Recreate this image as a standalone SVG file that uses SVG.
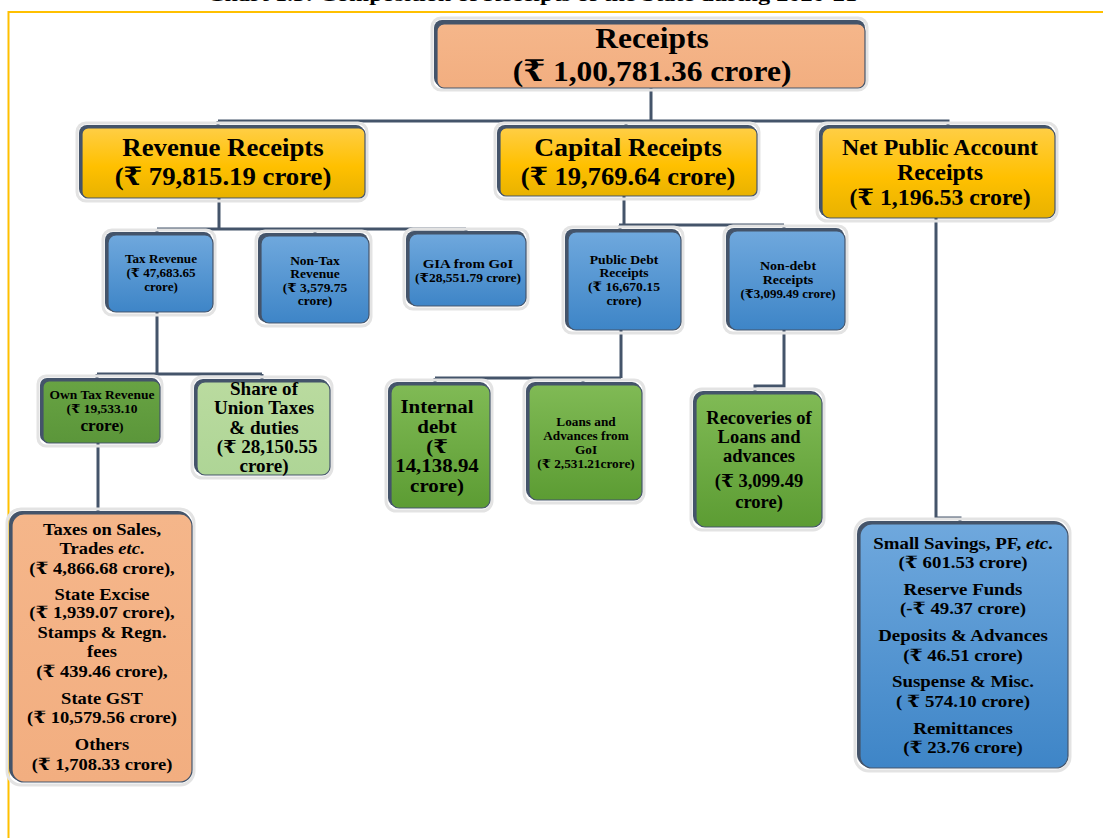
<svg xmlns="http://www.w3.org/2000/svg" width="1103" height="838" viewBox="0 0 1103 838">
<defs>
<linearGradient id="gPeach" x1="0" y1="0" x2="0" y2="1"><stop offset="0" stop-color="#F5B68A"/><stop offset="1" stop-color="#F2AE80"/></linearGradient>
<linearGradient id="gYellow" x1="0" y1="0" x2="0" y2="1"><stop offset="0" stop-color="#FFCE45"/><stop offset="0.55" stop-color="#FFC000"/><stop offset="1" stop-color="#E8B200"/></linearGradient>
<linearGradient id="gBlue" x1="0" y1="0" x2="0" y2="1"><stop offset="0" stop-color="#6FA8DD"/><stop offset="1" stop-color="#3E85C7"/></linearGradient>
<linearGradient id="gGreen" x1="0" y1="0" x2="0" y2="1"><stop offset="0" stop-color="#80BA55"/><stop offset="1" stop-color="#5C9C33"/></linearGradient>
<linearGradient id="gDGreen" x1="0" y1="0" x2="0" y2="1"><stop offset="0" stop-color="#68A343"/><stop offset="1" stop-color="#5B963A"/></linearGradient>
<linearGradient id="gLGreen" x1="0" y1="0" x2="0" y2="1"><stop offset="0" stop-color="#BADB9F"/><stop offset="1" stop-color="#AED596"/></linearGradient>
</defs>
<style>
.glow{fill:none;stroke:#E3E3E3;stroke-width:3}
.sh{fill:#44546A}
.box{stroke:#44546A;stroke-width:1.2}
.peach{fill:url(#gPeach)}
.yellow{fill:url(#gYellow)}
.blue{fill:url(#gBlue)}
.green{fill:url(#gGreen)}
.dgreen{fill:url(#gDGreen)}
.lgreen{fill:url(#gLGreen)}
text{font-family:"Liberation Serif","DejaVu Serif",serif;font-weight:bold;fill:#000;text-anchor:middle}
.conn{fill:none;stroke:#44546A;stroke-width:3}
.frame{fill:none;stroke:#FFC000;stroke-width:2}
</style>
<rect width="1103" height="838" fill="#FFFFFF"/>
<text x="532" y="1" font-size="18" textLength="650" lengthAdjust="spacingAndGlyphs">Chart 1.5: Composition of Receipts of the State during 2020-21</text>
<path class="frame" d="M1103 12 H8.5 V838"/>

<g id="connectors">
<path class="conn" d="M651 88 V121 M218 121 H948 V128 M218 121 V128 M626 121 V128"/>
<path class="conn" d="M219 198 V229 M157 229 H466 M157 229 V235 M315 229 V236 M466 229 V234"/>
<path class="conn" d="M624 196 V225 M619 225 H784 M620 225 V232 M784 225 V231"/>
<path class="conn" d="M157 312 V374 M97 374 H262 M97 374 V381 M262 374 V382"/>
<path class="conn" d="M98 443 V514"/>
<path class="conn" d="M621 330 V378 M435 378 H621 M435 378 V385 M583 378 V385"/>
<path class="conn" d="M784 330 V386 H755 V394"/>
<path class="conn" d="M936 218 V518 H960 V524"/>
</g>

<g id="receipts">
<rect class="glow" x="432" y="18" width="435" height="72" rx="9"/>
<rect class="sh" x="434" y="20" width="431" height="66" rx="8"/>
<rect class="box peach" x="437" y="24" width="428" height="64" rx="7"/>
<g transform="translate(652 0) scale(1.05 1)">
<text x="0" y="48" font-size="30">Receipts</text>
<text x="0" y="81" font-size="30">(₹ 1,00,781.36 crore)</text>
</g>
</g>

<g id="revenue-receipts">
<rect class="glow" x="77" y="123" width="290" height="78" rx="9"/>
<rect class="sh" x="79" y="125" width="285" height="72" rx="8"/>
<rect class="box yellow" x="82" y="128" width="283" height="70" rx="6"/>
<g transform="translate(223 0) scale(1.05 1)">
<text x="0" y="156" font-size="25.5">Revenue Receipts</text>
<text x="0" y="185" font-size="25.5">(₹ 79,815.19 crore)</text>
</g>
</g>

<g id="capital-receipts">
<rect class="glow" x="495" y="123" width="264" height="76" rx="9"/>
<rect class="sh" x="497" y="125" width="259" height="70" rx="8"/>
<rect class="box yellow" x="500" y="128" width="257" height="68" rx="6"/>
<g transform="translate(628 0) scale(1.06 1)">
<text x="0" y="156" font-size="24.5"><tspan font-size="26">Capital</tspan> Receipts</text>
<text x="0" y="185" font-size="25">(₹ 19,769.64 crore)</text>
</g>
</g>

<g id="net-public-account">
<rect class="glow" x="817" y="123" width="240" height="98" rx="10"/>
<rect class="sh" x="819" y="125" width="235" height="92" rx="9"/>
<rect class="box yellow" x="822" y="128" width="233" height="90" rx="8"/>
<g transform="translate(940 0) scale(1.06 1)">
<text x="0" y="155" font-size="22.5">Net Public Account</text>
<text x="0" y="180" font-size="22.5">Receipts</text>
<text x="0" y="205" font-size="22.5">(₹ 1,196.53  crore)</text>
</g>
</g>

<g id="tax-revenue">
<rect class="glow" x="103" y="230" width="112" height="85" rx="9"/>
<rect class="sh" x="105" y="232" width="107" height="79" rx="8"/>
<rect class="box blue" x="108" y="235" width="105" height="77" rx="8"/>
<g transform="translate(161 0) scale(1.05 1)">
<text x="0" y="263" font-size="12.5">Tax Revenue</text>
<text x="0" y="277" font-size="12.5">(₹ 47,683.65</text>
<text x="0" y="291" font-size="12.5">crore)</text>
</g>
</g>

<g id="non-tax-revenue">
<rect class="glow" x="256" y="231" width="115" height="95" rx="9"/>
<rect class="sh" x="258" y="233" width="110" height="89" rx="8"/>
<rect class="box blue" x="261" y="236" width="108" height="87" rx="8"/>
<g transform="translate(315 0) scale(1.08 1)">
<text x="0" y="265" font-size="12.5">Non-Tax</text>
<text x="0" y="278" font-size="12.5">Revenue</text>
<text x="0" y="292" font-size="12.5">(₹ 3,579.75</text>
<text x="0" y="305" font-size="12.5">crore)</text>
</g>
</g>

<g id="gia-from-goi">
<rect class="glow" x="404" y="229" width="124" height="80" rx="9"/>
<rect class="sh" x="406" y="231" width="119" height="74" rx="8"/>
<rect class="box blue" x="409" y="234" width="117" height="72" rx="8"/>
<g transform="translate(468 0) scale(1.1 1)">
<text x="0" y="268" font-size="13.5">GIA from GoI</text>
<text x="0" y="282" font-size="12.3">(₹28,551.79 crore)</text>
</g>
</g>

<g id="public-debt-receipts">
<rect class="glow" x="563" y="227" width="120" height="106" rx="9"/>
<rect class="sh" x="565" y="229" width="115" height="100" rx="8"/>
<rect class="box blue" x="568" y="232" width="113" height="98" rx="8"/>
<g transform="translate(624 0) scale(1.05 1)">
<text x="0" y="264" font-size="13">Public Debt</text>
<text x="0" y="277" font-size="13">Receipts</text>
<text x="0" y="291" font-size="13">(₹ 16,670.15</text>
<text x="0" y="305" font-size="13">crore)</text>
</g>
</g>

<g id="non-debt-receipts">
<rect class="glow" x="724" y="226" width="123" height="107" rx="9"/>
<rect class="sh" x="726" y="228" width="118" height="101" rx="8"/>
<rect class="box blue" x="729" y="231" width="116" height="99" rx="8"/>
<g transform="translate(788 0) scale(1.08 1)">
<text x="0" y="270" font-size="13">Non-debt</text>
<text x="0" y="284" font-size="13">Receipts</text>
<text x="0" y="298" font-size="12">(₹3,099.49 crore)</text>
</g>
</g>

<g id="own-tax-revenue">
<rect class="glow" x="38" y="376" width="124" height="70" rx="8"/>
<rect class="sh" x="40" y="378" width="119" height="64" rx="7"/>
<rect class="box dgreen" x="43" y="381" width="117" height="62" rx="6"/>
<g transform="translate(102 0) scale(1.08 1)">
<text x="0" y="399" font-size="12.5">Own Tax Revenue</text>
<text x="0" y="413" font-size="12.5">(₹ 19,533.10</text>
<text x="0" y="431" font-size="16">crore<tspan font-size="12.5">)</tspan></text>
</g>
</g>

<g id="share-of-union-taxes">
<rect class="glow" x="192" y="377" width="140" height="101" rx="10"/>
<rect class="sh" x="194" y="379" width="135" height="95" rx="9"/>
<rect class="box lgreen" x="197" y="382" width="133" height="93" rx="8"/>
<g transform="translate(264 0) scale(1.06 1)">
<text x="0" y="395" font-size="18">Share of</text>
<text x="0" y="414" font-size="18">Union Taxes</text>
<text x="0" y="434" font-size="18">&amp; duties</text>
<text x="3" y="453" font-size="18">(₹ 28,150.55</text>
<text x="0" y="472" font-size="18">crore)</text>
</g>
</g>

<g id="internal-debt">
<rect class="glow" x="386" y="380" width="106" height="131" rx="10"/>
<rect class="sh" x="388" y="382" width="101" height="125" rx="9"/>
<rect class="box green" x="391" y="385" width="99" height="123" rx="8"/>
<g transform="translate(437 0) scale(1.1 1)">
<text x="0" y="413" font-size="19">Internal</text>
<text x="0" y="433" font-size="19">debt</text>
<text x="0" y="453" font-size="19">(₹</text>
<text x="0" y="472" font-size="19">14,138.94</text>
<text x="0" y="492" font-size="19">crore)</text>
</g>
</g>

<g id="loans-and-advances">
<rect class="glow" x="524" y="380" width="120" height="123" rx="10"/>
<rect class="sh" x="526" y="382" width="115" height="117" rx="9"/>
<rect class="box green" x="529" y="385" width="113" height="115" rx="8"/>
<g transform="translate(586 0) scale(1.06 1)">
<text x="0" y="426" font-size="12.5">Loans and</text>
<text x="0" y="440" font-size="12.5">Advances from</text>
<text x="0" y="454" font-size="12.5">GoI</text>
<text x="0" y="468" font-size="12.5">(₹ 2,531.21crore)</text>
</g>
</g>

<g id="recoveries-of-loans">
<rect class="glow" x="691" y="389" width="133" height="141" rx="11"/>
<rect class="sh" x="693" y="391" width="128" height="135" rx="10"/>
<rect class="box green" x="696" y="394" width="126" height="133" rx="9"/>
<g transform="translate(759 0) scale(1.03 1)">
<text x="0" y="424" font-size="18">Recoveries of</text>
<text x="0" y="443" font-size="18">Loans and</text>
<text x="0" y="462" font-size="18">advances</text>
<text x="0" y="487" font-size="18">(₹ 3,099.49</text>
<text x="0" y="508" font-size="18">crore)</text>
</g>
</g>

<g id="own-tax-breakup">
<rect class="glow" x="7" y="509" width="187" height="276" rx="14"/>
<rect class="sh" x="9" y="511" width="182" height="270" rx="13"/>
<rect class="box peach" x="12" y="514" width="180" height="268" rx="12"/>
<g transform="translate(102 0) scale(1.09 1)">
<text x="0" y="535" font-size="17">Taxes on Sales,</text>
<text x="0" y="554" font-size="17">Trades <tspan font-style="italic">etc</tspan>.</text>
<text x="0" y="574" font-size="17">(₹ 4,866.68 crore),</text>
<text x="0" y="600" font-size="17">State Excise</text>
<text x="0" y="618" font-size="17">(₹ 1,939.07 crore),</text>
<text x="0" y="638" font-size="17">Stamps &amp; Regn.</text>
<text x="0" y="657" font-size="17">fees</text>
<text x="0" y="677" font-size="17">(₹ 439.46 crore),</text>
<text x="0" y="704" font-size="17">State GST</text>
<text x="0" y="723" font-size="17">(₹ 10,579.56 crore)</text>
<text x="0" y="750" font-size="17">Others</text>
<text x="0" y="770" font-size="17">(₹ 1,708.33 crore)</text>
</g>
</g>

<g id="public-account-breakup">
<rect class="glow" x="855" y="519" width="215" height="252" rx="14"/>
<rect class="sh" x="857" y="521" width="210" height="246" rx="13"/>
<rect class="box blue" x="860" y="524" width="208" height="244" rx="12"/>
<g transform="translate(963 0) scale(1.11 1)">
<text x="0" y="549" font-size="17">Small Savings, PF, <tspan font-style="italic">etc</tspan>.</text>
<text x="0" y="568" font-size="17">(₹ 601.53 crore)</text>
<text x="0" y="595" font-size="17">Reserve Funds</text>
<text x="0" y="614" font-size="17">(-₹ 49.37 crore)</text>
<text x="0" y="641" font-size="17">Deposits &amp; Advances</text>
<text x="0" y="661" font-size="17">(₹ 46.51  crore)</text>
<text x="0" y="687" font-size="17">Suspense &amp; Misc.</text>
<text x="0" y="707" font-size="17">( ₹ 574.10 crore)</text>
<text x="0" y="734" font-size="17">Remittances</text>
<text x="0" y="753" font-size="17">(₹ 23.76 crore)</text>
</g>
</g>
</svg>
